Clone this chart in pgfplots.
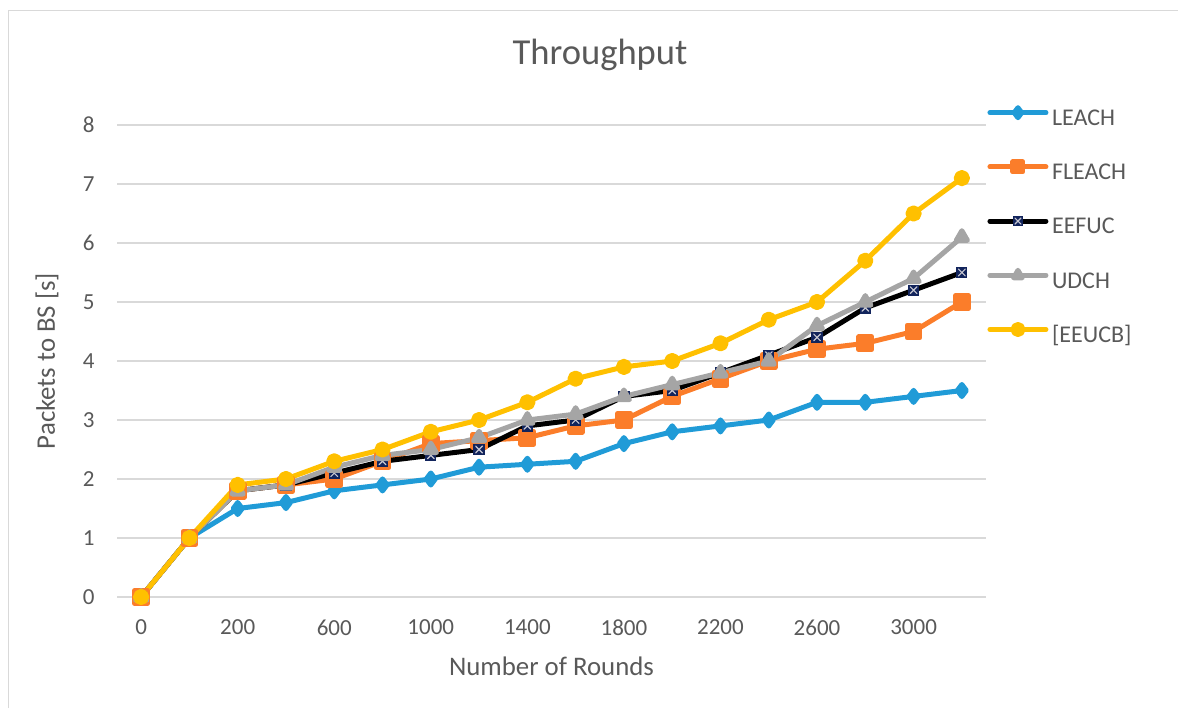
\documentclass[border=0pt]{standalone}
\usepackage{pgfplots}
\usepackage{pgfplotstable}
\pgfplotsset{compat=1.18}
\usepackage{fontspec}
\setmainfont{Carlito}

\definecolor{cLeach}{RGB}{32,155,215}
\definecolor{cFleach}{RGB}{251,125,42}
\definecolor{cUdch}{RGB}{165,165,165}
\definecolor{cEeucb}{RGB}{255,192,0}
\definecolor{cNavy}{RGB}{18,36,92}
\definecolor{cX}{RGB}{200,200,210}
\definecolor{cGrid}{RGB}{217,217,217}
\definecolor{cText}{RGB}{89,89,89}

% navy square with a light cross, used for EEFUC
\pgfdeclareplotmark{navybox}{%
  \pgfpathrectangle{\pgfqpoint{-\pgfplotmarksize}{-\pgfplotmarksize}}{\pgfqpoint{2\pgfplotmarksize}{2\pgfplotmarksize}}%
  \pgfsetfillcolor{cNavy}\pgfusepathqfill
  \pgfsetstrokecolor{cX}\pgfsetlinewidth{0.6pt}%
  \pgfpathmoveto{\pgfqpoint{-0.6\pgfplotmarksize}{-0.6\pgfplotmarksize}}%
  \pgfpathlineto{\pgfqpoint{0.6\pgfplotmarksize}{0.6\pgfplotmarksize}}%
  \pgfpathmoveto{\pgfqpoint{-0.6\pgfplotmarksize}{0.6\pgfplotmarksize}}%
  \pgfpathlineto{\pgfqpoint{0.6\pgfplotmarksize}{-0.6\pgfplotmarksize}}%
  \pgfusepathqstroke}

% rounds LEACH FLEACH EEFUC UDCH EEUCB
\pgfplotstableread{
rounds LEACH FLEACH EEFUC UDCH EEUCB
0    0    0    0   0   0
100  1    1    1   1   1
200  1.5  1.8  1.8 1.8 1.9
400  1.6  1.9  1.9 1.9 2.0
600  1.8  2.0  2.1 2.2 2.3
800  1.9  2.3  2.3 2.4 2.5
1000 2.0  2.6  2.4 2.5 2.8
1200 2.2  2.65 2.5 2.7 3.0
1400 2.25 2.7  2.9 3.0 3.3
1600 2.3  2.9  3.0 3.1 3.7
1800 2.6  3.0  3.4 3.4 3.9
2000 2.8  3.4  3.5 3.6 4.0
2200 2.9  3.7  3.8 3.8 4.3
2400 3.0  4.0  4.1 4.0 4.7
2600 3.3  4.2  4.4 4.6 5.0
2800 3.3  4.3  4.9 5.0 5.7
3000 3.4  4.5  5.2 5.4 6.5
3200 3.5  5.0  5.5 6.1 7.1
}\datatable

\begin{document}
\begin{tikzpicture}
\useasboundingbox (0,0) rectangle (589pt,354pt);
% chart frame
\draw[cGrid, line width=0.75pt] (4.25pt,0) -- (4.25pt,348.75pt) -- (589pt,348.75pt);
% title
\node[text=cText, font=\fontsize{18.3}{22}\selectfont] at (300pt,326.5pt) {Throughput};

\begin{axis}[
  at={(58.5pt,55.5pt)}, anchor=south west,
  scale only axis, width=434.5pt, height=236pt,
  xmin=-0.5, xmax=17.5, ymin=0, ymax=8,
  clip=false,
  axis line style={draw=none},
  tick style={draw=none},
  ymajorgrids, grid style={color=cGrid, line width=0.75pt},
  ytick={0,...,8},
  xtick={0,...,17},
  xticklabels={0,,200,,600,,1000,,1400,,1800,,2200,,2600,,3000,},
  ticklabel style={font=\fontsize{11.5}{13}\selectfont, text=cText},
  /pgf/number format/assume math mode=true,
  yticklabel style={xshift=-7.7pt},
  xticklabel style={yshift=-7.7pt},
  xlabel={Number of Rounds},
  ylabel={Packets to BS [s]},
  label style={font=\fontsize{13.4}{16}\selectfont, text=cText},
  xlabel style={at={(axis description cs:0.5,-0.146)}, anchor=center},
  ylabel style={at={(axis description cs:-0.0806,0.5)}, anchor=center},
  every axis plot/.append style={line width=2.5pt, line join=round, line cap=round},
  legend style={at={(1.0012,1.0375)}, anchor=north west, draw=none, fill=none,
    inner sep=0pt, row sep=15.75pt, column sep=1.8pt,
    font=\fontsize{12}{14}\selectfont, text=cText,
    nodes={inner sep=0pt, text height=8pt, text depth=2.5pt}},
  legend cell align=left,
  legend image code/.code={\draw[#1, mark repeat=2, mark phase=2, mark size=2.5pt]
    plot coordinates {(0pt,3.6pt) (14pt,3.6pt) (28pt,3.6pt)};},
]
\addplot[cLeach, mark=diamond*, mark size=3pt, mark options={solid, fill=cLeach}]
  table[x expr=\coordindex, y=LEACH] {\datatable};
\addlegendentry{LEACH}
\addplot[cFleach, mark=square*, mark size=3.2pt, mark options={solid, fill=cFleach}]
  table[x expr=\coordindex, y=FLEACH] {\datatable};
\addlegendentry{FLEACH}
\addplot[black, mark=navybox, mark size=2.8pt]
  table[x expr=\coordindex, y=EEFUC] {\datatable};
\addlegendentry{EEFUC}
\addplot[cUdch, mark=triangle*, mark size=3.2pt, mark options={solid, fill=cUdch}]
  table[x expr=\coordindex, y=UDCH] {\datatable};
\addlegendentry{UDCH}
\addplot[cEeucb, mark=*, mark size=2.8pt, mark options={solid, fill=cEeucb}]
  table[x expr=\coordindex, y=EEUCB] {\datatable};
\addlegendentry{[EEUCB]}
\end{axis}
\end{tikzpicture}
\end{document}
